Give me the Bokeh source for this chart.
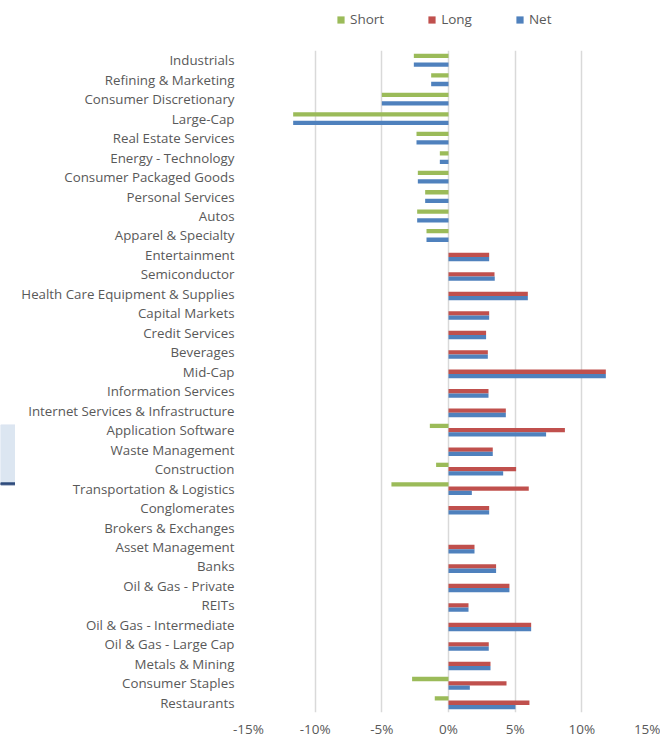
from bokeh.plotting import figure
from bokeh.models import (ColumnDataSource, FactorRange, FixedTicker, PrintfTickFormatter,
                          Legend, LegendItem, Range1d)
from bokeh.layouts import column, row
from bokeh.transform import dodge
from bokeh.embed import file_html
from bokeh.resources import INLINE

categories = ["Industrials", "Refining & Marketing", "Consumer Discretionary", "Large-Cap",
              "Real Estate Services", "Energy - Technology", "Consumer Packaged Goods",
              "Personal Services", "Autos", "Apparel & Specialty", "Entertainment",
              "Semiconductor", "Health Care Equipment & Supplies", "Capital Markets",
              "Credit Services", "Beverages", "Mid-Cap", "Information Services",
              "Internet Services & Infrastructure", "Application Software", "Waste Management",
              "Construction", "Transportation & Logistics", "Conglomerates",
              "Brokers & Exchanges", "Asset Management", "Banks", "Oil & Gas - Private",
              "REITs", "Oil & Gas - Intermediate", "Oil & Gas - Large Cap", "Metals & Mining",
              "Consumer Staples", "Restaurants"]

short = [-2.6, -1.3, -5.0, -11.65, -2.4, -0.65, -2.3, -1.75, -2.35, -1.65,
         0, 0, 0, 0, 0, 0, 0, 0, 0, -1.4,
         0, -0.93, -4.28, 0, 0, 0, 0, 0, 0, 0,
         0, 0, -2.73, -1.03]
long = [0, 0, 0, 0, 0, 0, 0, 0, 0, 0,
        3.05, 3.45, 5.95, 3.05, 2.82, 2.95, 11.8, 3.0, 4.3, 8.73,
        3.32, 5.07, 6.02, 3.05, 0, 1.95, 3.57, 4.57, 1.5, 6.2,
        3.02, 3.15, 4.35, 6.07]
net = [-2.6, -1.3, -5.0, -11.65, -2.4, -0.65, -2.3, -1.75, -2.35, -1.65,
       3.05, 3.47, 5.95, 3.05, 2.82, 2.95, 11.8, 3.0, 4.3, 7.32,
       3.32, 4.1, 1.75, 3.05, 0, 1.95, 3.57, 4.57, 1.5, 6.2,
       3.02, 3.15, 1.6, 5.02]

series_names = ["Short", "Long", "Net"]
x_ticks = [-15, -10, -5, 0, 5, 10, 15]

GREEN = "#9BBB59"
RED = "#C0504D"
BLUE = "#4F81BD"
TEXT = "#595959"
FONT = "Open Sans"
colors = [GREEN, RED, BLUE]

src = ColumnDataSource(dict(cat=categories, short=short, long=long, net=net))

# ---------------- main chart ----------------
p = figure(width=645, height=690, output_backend="svg", toolbar_location=None,
           y_range=FactorRange(factors=list(reversed(categories)), range_padding=0),
           x_range=(-15, 15),
           min_border_left=233, min_border_right=12, min_border_top=0, min_border_bottom=27)
p.outline_line_color = None
p.background_fill_color = "white"
p.border_fill_color = "white"

bw = 0.22
for col, off, c in zip(["short", "long", "net"], [bw, 0, -bw], colors):
    p.hbar(y=dodge("cat", off, range=p.y_range), left=0, right=col, height=bw,
           fill_color=c, line_color=None, source=src)

p.xaxis.ticker = FixedTicker(ticks=x_ticks)
p.xaxis.formatter = PrintfTickFormatter(format="%d%%")
p.xaxis.axis_line_color = None
p.xaxis.major_tick_line_color = None
p.xaxis.minor_tick_line_color = None
p.xaxis.major_tick_out = 0
p.xaxis.major_tick_in = 0
p.xaxis.minor_tick_out = 0
p.xaxis.major_label_text_font = FONT
p.xaxis.major_label_text_font_size = "13.5px"
p.xaxis.major_label_text_color = TEXT
p.xaxis.major_label_standoff = 7

p.yaxis.axis_line_color = None
p.yaxis.major_tick_line_color = None
p.yaxis.minor_tick_line_color = None
p.yaxis.major_tick_out = 0
p.yaxis.major_tick_in = 0
p.yaxis.major_label_text_font = FONT
p.yaxis.major_label_text_font_size = "13.3px"
p.yaxis.major_label_text_color = TEXT
p.yaxis.major_label_standoff = 14

p.ygrid.grid_line_color = None
p.xgrid.grid_line_color = "#D9D9D9"
p.xgrid.grid_line_width = 1.5

# ---------------- legend strip ----------------
lg = figure(width=660, height=50, output_backend="svg", toolbar_location=None,
            x_range=Range1d(0, 660), y_range=Range1d(0, 50),
            x_axis_location=None, y_axis_location=None,
            min_border_left=0, min_border_right=0, min_border_top=0, min_border_bottom=0)
lg.outline_line_color = None
lg.grid.grid_line_color = None
items = []
for name, c in zip(series_names, colors):
    # off-screen proxy glyph so the legend swatch is drawn
    r = lg.hbar(y=[-1000], right=[1], left=0, height=1, fill_color=c, line_color=None)
    items.append(LegendItem(label=name, renderers=[r]))
legend = Legend(items=items, orientation="horizontal", location=(336, 22),
                label_text_font=FONT, label_text_font_size="13.5px",
                label_text_color=TEXT, glyph_width=9, glyph_height=9,
                spacing=43, border_line_color=None, background_fill_alpha=0,
                padding=0, margin=0, label_standoff=5)
lg.add_layout(legend, "center")

# ---------------- stray box fragment at far left ----------------
bx = figure(width=15, height=690, output_backend="svg", toolbar_location=None,
            x_range=Range1d(0, 15), y_range=Range1d(663, 0),
            x_axis_location=None, y_axis_location=None,
            min_border_left=0, min_border_right=0, min_border_top=0, min_border_bottom=0)
bx.outline_line_color = None
bx.grid.grid_line_color = None
bx.quad(left=[0], right=[15], top=[375], bottom=[433], color="#DCE6F1")
bx.quad(left=[0], right=[15], top=[433], bottom=[435], color="#2F4B7C")

layout = column(lg, row(bx, p, spacing=0), spacing=0)

open("out.html", "w").write(file_html(layout, INLINE))
